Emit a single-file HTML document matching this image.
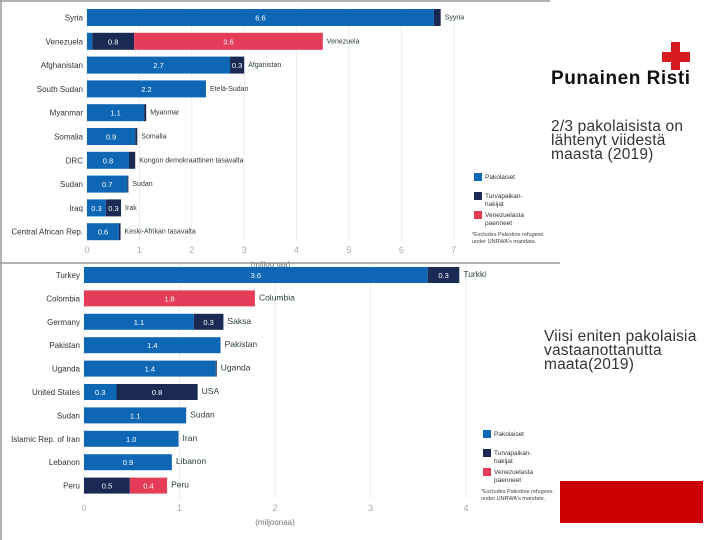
<!DOCTYPE html>
<html><head><meta charset="utf-8">
<style>
body{margin:0;width:720px;height:540px;background:#fff;overflow:hidden;font-family:"Liberation Sans",sans-serif;position:relative}
svg{position:absolute;left:0;top:0}
.side{position:absolute;color:#333;font-size:15.5px;line-height:14px;letter-spacing:0.2px}
</style></head>
<body>
<svg id="chart" width="720" height="540">
  <line x1="0" y1="1" x2="550" y2="1" stroke="#999" stroke-width="1.5"/>
  <line x1="1" y1="0" x2="1" y2="540" stroke="#999" stroke-width="1.5"/>
  <line x1="0" y1="263" x2="560" y2="263" stroke="#999" stroke-width="1.5"/>
  <rect x="671" y="42" width="9" height="28" fill="#d71920"/>
  <rect x="662" y="52" width="28" height="10" fill="#d71920"/>
  <text x="551" y="84" font-size="19" font-weight="bold" fill="#111" textLength="139">Punainen Risti</text>
  <rect x="560" y="481" width="143" height="42" fill="#cc0000"/>
  <g id="c1"></g>
  <g id="c2"></g>
</svg>
<div class="side" style="left:551px;top:120px">2/3 pakolaisista on<br>lähtenyt viidestä<br>maasta (2019)</div>
<div class="side" style="left:544px;top:330px">Viisi eniten pakolaisia<br>vastaanottanutta<br>maata(2019)</div>
<script>
const c1Categories=["Syria","Venezuela","Afghanistan","South Sudan","Myanmar","Somalia","DRC","Sudan","Iraq","Central African Rep."];
const c1FiLabels=["Syyria","Venezuela","Afganistan","Etelä-Sudan","Myanmar","Somalia","Kongon demokraattinen tasavalta","Sudan","Irak","Keski-Afrikan tasavalta"];
const c1Refugees=[6.62,0.1,2.73,2.27,1.09,0.92,0.8,0.77,0.36,0.61];
const c1Asylum=[0.13,0.8,0.27,0,0.04,0.04,0.12,0.02,0.29,0.03];
const c1Venez=[0,3.6,0,0,0,0,0,0,0,0];
const c1Printed=[["6.6","",""],["","0.8","3.6"],["2.7","0.3",""],["2.2","",""],["1.1","",""],["0.9","",""],["0.8","",""],["0.7","",""],["0.3","0.3",""],["0.6","",""]];
const c1Ticks=[0,1,2,3,4,5,6,7];

const c2Categories=["Turkey","Colombia","Germany","Pakistan","Uganda","United States","Sudan","Islamic Rep. of Iran","Lebanon","Peru"];
const c2FiLabels=["Turkki","Columbia","Saksa","Pakistan","Uganda","USA","Sudan","Iran","Libanon","Peru"];
const c2Refugees=[3.6,0,1.15,1.43,1.38,0.34,1.07,0.99,0.92,0];
const c2Asylum=[0.33,0,0.31,0,0.01,0.85,0,0,0,0.48];
const c2Venez=[0,1.79,0,0,0,0,0,0,0,0.39];
const c2Printed=[["3.6","0.3",""],["","","1.8"],["1.1","0.3",""],["1.4","",""],["1.4","",""],["0.3","0.8",""],["1.1","",""],["1.0","",""],["0.9","",""],["","0.5","0.4"]];
const c2Ticks=[0,1,2,3,4];

const NS="http://www.w3.org/2000/svg";
const COLORS=["#0e67b5","#1a2a55","#e43c59"];
function mk(parent,tag,attrs,text){const e=document.createElementNS(NS,tag);for(const k in attrs)e.setAttribute(k,attrs[k]);if(text!==undefined)e.textContent=text;parent.appendChild(e);return e;}

function draw(g,cfg){
  const xs=v=>cfg.x0+v*cfg.unit;
  const ys=i=>cfg.y0+i*cfg.pitch;
  cfg.ticks.forEach(t=>{
    const l=mk(g,"line",{x1:xs(t),x2:xs(t),y1:cfg.y0-3,y2:cfg.axisY-12,stroke:"#ececec","stroke-width":1});
    
    
    const tx=mk(g,"text",{x:xs(t),y:cfg.axisY,"font-size":9,fill:"#aaa","text-anchor":"middle"},String(t));
    
    
  });
  const at=mk(g,"text",{x:(xs(0)+xs(cfg.ticks[cfg.ticks.length-1]))/2,y:cfg.axisY+14,"font-size":8,fill:"#777","text-anchor":"middle"},"(miljoonaa)");
  
  
  cfg.cats.forEach((c,i)=>{
    const y=ys(i);
    const cl=mk(g,"text",{x:cfg.x0-4,y:y+cfg.h/2+3,"font-size":8,fill:"#333","text-anchor":"end"},c);
    
    
    const vals=[cfg.a[i],cfg.b[i],cfg.c[i]];
    let acc=0;
    vals.forEach((v,k)=>{
      if(v<=0)return;
      const r=mk(g,"rect",{x:xs(acc),y:y,width:xs(acc+v)-xs(acc),height:cfg.h,fill:COLORS[k]});
      
      
      const p=cfg.printed[i][k];
      if(p){
        const vt=mk(g,"text",{x:(xs(acc)+xs(acc+v))/2,y:y+cfg.h/2+3,"font-size":7.5,fill:"#fff","text-anchor":"middle"},p);
        
        
      }
      acc+=v;
    });
    const fl=mk(g,"text",{x:xs(acc)+4,y:y+cfg.h/2+2,"font-size":cfg.fs,fill:"#2b3f2f"},cfg.fi[i]);
    
    
  });
  const lg=[["Pakolaiset"],["Turvapaikan-","hakijat"],["Venezuelasta","paenneet"]];
  lg.forEach((t,k)=>{
    const ly=cfg.legY+k*19;
    const s=mk(g,"rect",{x:cfg.legX,y:ly,width:8,height:8,fill:COLORS[k]});
    
    
    t.forEach((line,j)=>{
      const lt=mk(g,"text",{x:cfg.legX+11,y:ly+6+j*8,"font-size":6.5,fill:"#333"},line);
      
      
    });
  });
  ["*Excludes Palestine refugees","under UNRWA's mandate."].forEach((line,j)=>{
    const n=mk(g,"text",{x:cfg.legX-2,y:cfg.legY+63+j*7,"font-size":5.5,fill:"#444"},line);
    
    
  });
}
draw(document.getElementById('c1'),{cats:c1Categories,fi:c1FiLabels,a:c1Refugees,b:c1Asylum,c:c1Venez,printed:c1Printed,ticks:c1Ticks,x0:87,unit:52.4,y0:9,pitch:23.8,h:17,axisY:253,legX:474,legY:173,fs:7});
draw(document.getElementById('c2'),{cats:c2Categories,fi:c2FiLabels,a:c2Refugees,b:c2Asylum,c:c2Venez,printed:c2Printed,ticks:c2Ticks,x0:84,unit:95.5,y0:267,pitch:23.4,h:16,axisY:511,legX:483,legY:430,fs:8.5});
</script>
</body></html>
